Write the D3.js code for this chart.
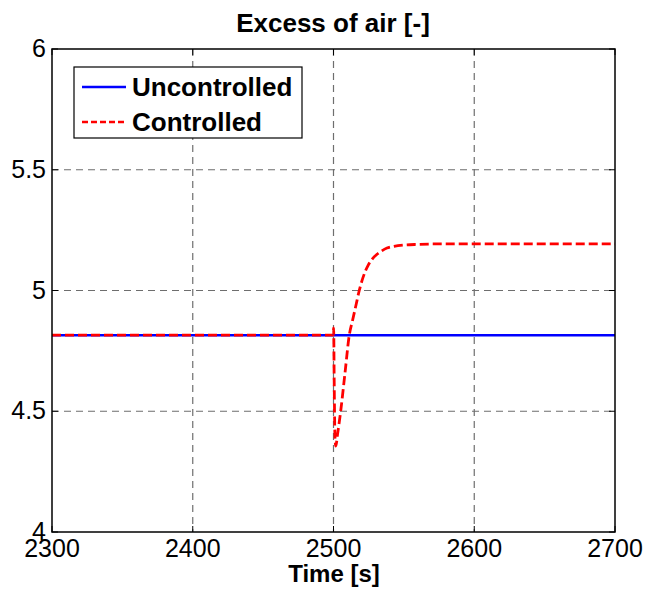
<!DOCTYPE html>
<html><head><meta charset="utf-8">
<script src="https://cdn.jsdelivr.net/npm/d3@7"></script>
<style>body{margin:0;background:#fff;} svg{display:block;}</style>
</head><body>
<svg id="c" width="650" height="594"></svg>
<script>
const xTicks = [2300, 2400, 2500, 2600, 2700];
const yTicks = [4, 4.5, 5, 5.5, 6];
const yTickLabels = ["4", "4.5", "5", "5.5", "6"];
const uncontrolledT = [2300, 2700];
const uncontrolledV = [4.815, 4.815];
const controlledT = [2300, 2499.8, 2500.1, 2500.5, 2501.0, 2501.6, 2503, 2505.1, 2508.2, 2511.2, 2513.6, 2516, 2518.3, 2520.2, 2522.5, 2524.5, 2527.5, 2530.9, 2534, 2538, 2543, 2549.4, 2560, 2575.7, 2700];
const controlledV = [4.815, 4.815, 4.845, 4.62, 4.40, 4.356, 4.41, 4.50, 4.66, 4.815, 4.878, 4.94, 5.0, 5.04, 5.078, 5.103, 5.13, 5.150, 5.163, 5.176, 5.183, 5.188, 5.191, 5.193, 5.193];
const seriesNames = ["Uncontrolled", "Controlled"];

const svg = d3.select("#c");
const L = 52, R = 615, T = 49, B = 532;
const x = d3.scaleLinear().domain([2300, 2700]).range([L, R]);
const y = d3.scaleLinear().domain([4, 6]).range([B, T]);

// grid
const g = svg.append("g");
g.selectAll(".gx").data(xTicks.slice(1, -1)).enter().append("line")
  .attr("x1", d => x(d)).attr("x2", d => x(d)).attr("y1", T).attr("y2", B)
  .attr("stroke", "#6e6e6e").attr("stroke-width", 1.2).attr("stroke-dasharray", "7,5");
g.selectAll(".gy").data(yTicks.slice(1, -1)).enter().append("line")
  .attr("y1", d => y(d)).attr("y2", d => y(d)).attr("x1", L).attr("x2", R)
  .attr("stroke", "#6e6e6e").attr("stroke-width", 1.2).attr("stroke-dasharray", "7,5");

// lines
const unc = uncontrolledT.map((t, i) => [t, uncontrolledV[i]]);
const con = controlledT.map((t, i) => [t, controlledV[i]]);
svg.append("path").datum(unc).attr("d", d3.line().x(d => x(d[0])).y(d => y(d[1])))
  .attr("fill", "none").attr("stroke", "#0000ff").attr("stroke-width", 2.6);
svg.append("path").datum(con).attr("d", d3.line().x(d => x(d[0])).y(d => y(d[1])).curve(d3.curveMonotoneX))
  .attr("fill", "none").attr("stroke", "#ff0000").attr("stroke-width", 2.8).attr("stroke-dasharray", "9,4");

// axes box
svg.append("rect").attr("x", L).attr("y", T).attr("width", R - L).attr("height", B - T)
  .attr("fill", "none").attr("stroke", "#000").attr("stroke-width", 1.5);

// ticks (inside, MATLAB style)
const tk = 6;
xTicks.forEach(t => {
  svg.append("line").attr("x1", x(t)).attr("x2", x(t)).attr("y1", B).attr("y2", B - tk).attr("stroke", "#000");
  svg.append("line").attr("x1", x(t)).attr("x2", x(t)).attr("y1", T).attr("y2", T + tk).attr("stroke", "#000");
});
yTicks.forEach(t => {
  svg.append("line").attr("x1", L).attr("x2", L + tk).attr("y1", y(t)).attr("y2", y(t)).attr("stroke", "#000");
  svg.append("line").attr("x1", R).attr("x2", R - tk).attr("y1", y(t)).attr("y2", y(t)).attr("stroke", "#000");
});

const font = "Liberation Sans, Arial, sans-serif";
svg.selectAll(".xl").data(xTicks).enter().append("text")
  .attr("x", d => x(d)).attr("y", 557).attr("text-anchor", "middle")
  .attr("font-family", font).attr("font-size", 25).text(d => d);
svg.selectAll(".yl").data(yTicks).enter().append("text")
  .attr("x", 46).attr("y", d => y(d) + 8).attr("text-anchor", "end")
  .attr("font-family", font).attr("font-size", 25).text((d, i) => yTickLabels[i]);

svg.append("text").attr("x", 333).attr("y", 32).attr("text-anchor", "middle")
  .attr("font-family", font).attr("font-size", 26).attr("font-weight", "bold").text("Excess of air [-]");
svg.append("text").attr("x", 334).attr("y", 582).attr("text-anchor", "middle")
  .attr("font-family", font).attr("font-size", 24).attr("font-weight", "bold").text("Time [s]");

// legend
const lg = svg.append("g");
lg.append("rect").attr("x", 74).attr("y", 67).attr("width", 228).attr("height", 71)
  .attr("fill", "#fff").attr("stroke", "#000").attr("stroke-width", 1.2);
const rows = [87, 122];
const colors = ["#0000ff", "#ff0000"];
seriesNames.forEach((n, i) => {
  lg.append("line").attr("x1", 82).attr("x2", 126).attr("y1", rows[i]).attr("y2", rows[i])
    .attr("stroke", colors[i]).attr("stroke-width", 2.6).attr("stroke-dasharray", i ? "6,3" : null);
  lg.append("text").attr("x", 132).attr("y", rows[i] + 9).attr("font-family", font)
    .attr("font-size", 26).attr("font-weight", "bold").text(n);
});
</script>
</body></html>
